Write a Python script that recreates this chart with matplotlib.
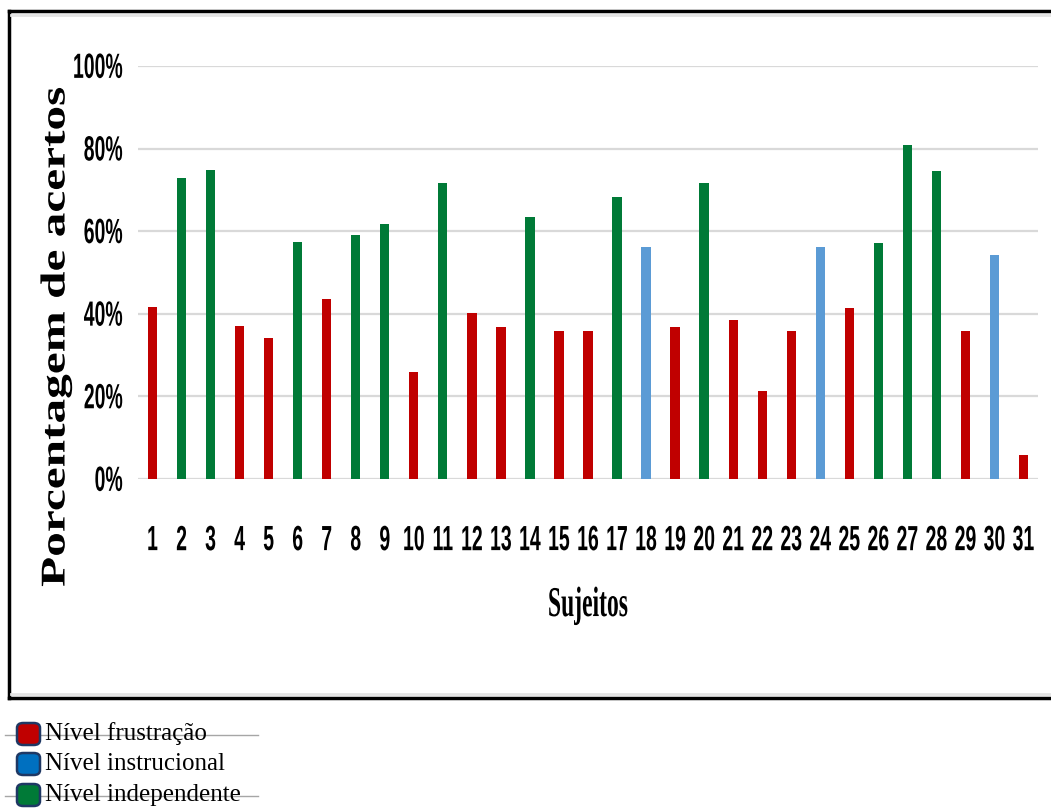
import matplotlib
matplotlib.use("Agg")
import matplotlib.pyplot as plt
from matplotlib.lines import Line2D
from matplotlib.patches import FancyBboxPatch
from matplotlib.patheffects import AbstractPathEffect
from matplotlib.ticker import PercentFormatter
from matplotlib.transforms import Affine2D

# Dados: percentagem de acertos por sujeito e nível de leitura
sujeitos = [str(i) for i in range(1, 32)]
acertos = [41.7, 73.0, 74.7, 37.1, 34.2, 57.4, 43.5, 59.0, 61.7, 26.0,
           71.6, 40.3, 36.9, 63.5, 35.8, 35.8, 68.2, 56.1, 36.9, 71.6,
           38.6, 21.4, 35.8, 56.1, 41.5, 57.1, 80.8, 74.5, 35.8, 54.3, 5.8]
niveis = ["F", "D", "D", "F", "F", "D", "F", "D", "D", "F",
          "D", "F", "F", "D", "F", "F", "D", "I", "F", "D",
          "F", "F", "F", "I", "F", "D", "D", "D", "F", "I", "F"]
legenda_chaves = ["F", "I", "D"]
legenda_textos = ["Nível frustração", "Nível instrucional", "Nível independente"]

cor_barra = {"F": "#C00000", "I": "#5B9BD5", "D": "#007A37"}
cor_legenda = {"F": "#C00000", "I": "#0070C0", "D": "#007A37"}

W, H = 1051, 808
def fx(px):
    return px / W
def fy(py):
    return 1 - py / H


class Stretch(AbstractPathEffect):
    """Estica o texto (em coordenadas do próprio texto) mantendo o centro."""
    def __init__(self, sx=1.0, sy=1.0):
        super().__init__()
        self.sx, self.sy = sx, sy

    def draw_path(self, renderer, gc, tpath, affine, rgbFace=None):
        e0 = tpath.get_extents(affine)
        new = Affine2D().scale(self.sx, self.sy) + affine
        e1 = tpath.get_extents(new)
        dx = (e0.x0 + e0.x1 - e1.x0 - e1.x1) / 2
        dy = (e0.y0 + e0.y1 - e1.y0 - e1.y1) / 2
        renderer.draw_path(gc, tpath, new + Affine2D().translate(dx, dy), rgbFace)


fig = plt.figure(figsize=(W / 100, H / 100), dpi=100)
ax = fig.add_axes([fx(138), fy(479), fx(1038) - fx(138), fy(66) - fy(479)])

x = range(len(sujeitos))
ax.bar(x, [v / 100 for v in acertos], width=0.32,
       color=[cor_barra[n] for n in niveis], zorder=3)

ax.set_xlim(-0.5, len(sujeitos) - 0.5)
ax.set_ylim(0, 1.0)
ax.set_yticks([0, 0.2, 0.4, 0.6, 0.8, 1.0])
ax.yaxis.set_major_formatter(PercentFormatter(1.0, decimals=0))
ax.set_xticks(list(x))
ax.set_xticklabels(sujeitos)
ax.grid(axis="y", color="#D9D9D9", linewidth=1.6, zorder=0)
ax.set_axisbelow(True)
for s in ax.spines.values():
    s.set_visible(False)
ax.tick_params(axis="both", length=0)
ax.tick_params(axis="x", pad=38)
ax.tick_params(axis="y", pad=11)
for lab in ax.get_xticklabels() + ax.get_yticklabels():
    lab.set_family(["Liberation Sans", "DejaVu Sans"])
    lab.set_fontweight("bold")
    lab.set_fontsize(14)
    lab.set_path_effects([Stretch(1.0, 1.8)])

# títulos dos eixos
fig.text(fx(56), fy(337), "Porcentagem de acertos", rotation=90,
         ha="center", va="center", fontsize=25, fontweight="bold",
         family=["Liberation Serif", "DejaVu Serif"],
         path_effects=[Stretch(1.42, 1.0)])
fig.text(fx(588), fy(606), "Sujeitos", ha="center", va="center",
         fontsize=17, fontweight="bold",
         family=["Liberation Serif", "DejaVu Serif"],
         path_effects=[Stretch(1.0, 1.8)])

# moldura do gráfico (sem borda à direita)
frame = dict(color="black", linewidth=2.5, transform=fig.transFigure)
fig.add_artist(Line2D([fx(9), 1], [fy(11), fy(11)], **frame))
fig.add_artist(Line2D([fx(9), fx(9)], [fy(11), fy(698)], **frame))
fig.add_artist(Line2D([fx(9), 1], [fy(698), fy(698)], **frame))
shade = dict(color="#E3E3E3", linewidth=2, transform=fig.transFigure)
fig.add_artist(Line2D([fx(11), 1], [fy(15), fy(15)], **shade))
fig.add_artist(Line2D([fx(11), 1], [fy(694), fy(694)], **shade))

# legenda abaixo da moldura
row_y = [734, 764, 795]
for chave, texto, py in zip(legenda_chaves, legenda_textos, row_y):
    if chave != "I":
        fig.add_artist(Line2D([fx(5), fx(258)], [fy(py + 1), fy(py + 1)],
                              color="#A6A6A6", linewidth=1,
                              transform=fig.transFigure, zorder=1))
    fig.add_artist(FancyBboxPatch((fx(17), fy(py + 11)), fx(23), fy(py - 11) - fy(py + 11),
                                  boxstyle="round,pad=0,rounding_size=0.006",
                                  facecolor=cor_legenda[chave], edgecolor="#1F3864",
                                  linewidth=1.8, transform=fig.transFigure, zorder=2))
    fig.text(fx(45), fy(py), texto, ha="left", va="center", fontsize=18,
             family=["Liberation Serif", "DejaVu Serif"], zorder=3)

fig.savefig("out.png", dpi=100)
